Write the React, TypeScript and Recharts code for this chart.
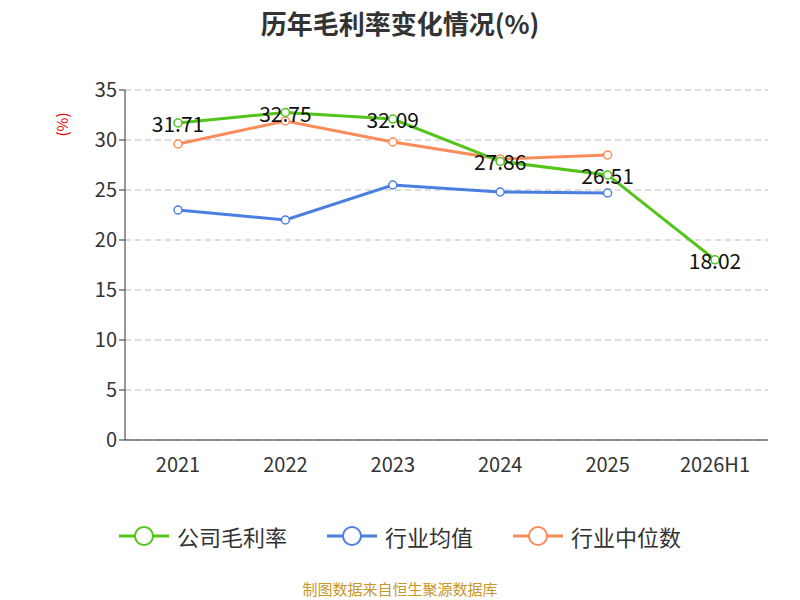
import { LineChart, Line, XAxis, YAxis, CartesianGrid, LabelList } from 'recharts'

const years = ['2021', '2022', '2023', '2024', '2025', '2026H1']
const company = [31.71, 32.75, 32.09, 27.86, 26.51, 18.02]
const industryAvg = [23.0, 22.0, 25.5, 24.8, 24.7, null]
const industryMedian = [29.6, 31.9, 29.8, 28.1, 28.5, null]

const data = years.map((y, i) => ({
    year: y,
    company: company[i],
    avg: industryAvg[i],
    median: industryMedian[i],
}))

const legend = [
    { name: '公司毛利率', color: '#52c41a' },
    { name: '行业均值', color: '#4a7fe0' },
    { name: '行业中位数', color: '#fa8c5a' },
]

const dot = (color: string) => ({ r: 4, fill: '#fff', stroke: color, strokeWidth: 1.5 })

export default function App() {
    return (
        <div style={{ position: 'fixed', left: 0, top: 0, width: 800, height: 600, background: '#fff', fontFamily: '"Noto Sans CJK SC", "Noto Sans", sans-serif' }}>
            <div style={{ position: 'absolute', top: 4, width: 800, textAlign: 'center', fontSize: 26, fontWeight: 'bold', color: '#333' }}>
                历年毛利率变化情况(%)
            </div>
            <div style={{ position: 'absolute', left: 50, top: 114, transform: 'rotate(-90deg)', color: '#e00', fontSize: 15 }}>(%)</div>
            <LineChart width={800} height={600} data={data} margin={{ top: 90, left: 65, right: 32, bottom: 130 }}>
                <CartesianGrid vertical={false} stroke="#bbb" strokeDasharray="6 4" />
                <XAxis dataKey="year" height={30} padding={{ left: 53, right: 53 }} stroke="#333" tick={{ fill: '#333', fontSize: 20 }} tickLine={false} tickMargin={12} />
                <YAxis width={60} domain={[0, 35]} ticks={[0, 5, 10, 15, 20, 25, 30, 35]} stroke="#333" tick={{ fill: '#333', fontSize: 20 }} tickSize={6} />
                <Line dataKey="avg" stroke="#4a7fe0" strokeWidth={3} dot={dot('#4a7fe0')} isAnimationActive={false} />
                <Line dataKey="median" stroke="#fa8c5a" strokeWidth={3} dot={dot('#fa8c5a')} isAnimationActive={false} />
                <Line dataKey="company" stroke="#52c41a" strokeWidth={3} dot={dot('#52c41a')} isAnimationActive={false}>
                    <LabelList dataKey="company" position="top" offset={-9} fill="#111" fontSize={21} />
                </Line>
            </LineChart>
            <div style={{ position: 'absolute', top: 520, width: 800, display: 'flex', justifyContent: 'center', gap: 40, fontSize: 22, color: '#333' }}>
                {legend.map(l => (
                    <div key={l.name} style={{ display: 'flex', alignItems: 'center', gap: 8 }}>
                        <svg width={50} height={24}>
                            <line x1={0} y1={12} x2={50} y2={12} stroke={l.color} strokeWidth={3} />
                            <circle cx={25} cy={12} r={9} fill="#fff" stroke={l.color} strokeWidth={2} />
                        </svg>
                        {l.name}
                    </div>
                ))}
            </div>
            <div style={{ position: 'absolute', top: 578, width: 800, textAlign: 'center', fontSize: 15, color: '#c8962d' }}>
                制图数据来自恒生聚源数据库
            </div>
        </div>
    )
}
